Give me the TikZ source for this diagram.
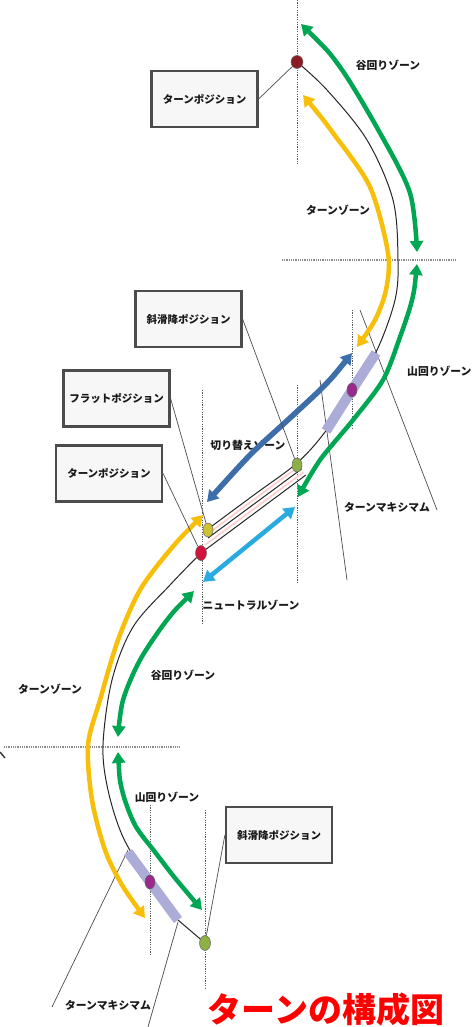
\documentclass[tikz,border=0pt]{standalone}
\usepackage{fontspec}
\setmainfont{Noto Sans CJK JP}
\usetikzlibrary{arrows.meta,shapes.geometric}
\definecolor{zgreen}{RGB}{0,166,81}
\definecolor{zyellow}{RGB}{247,190,10}
\definecolor{zsteel}{RGB}{62,110,170}
\definecolor{zsky}{RGB}{41,171,226}
\definecolor{zlav}{RGB}{172,172,216}
\definecolor{zdred}{RGB}{140,28,36}
\definecolor{zred}{RGB}{210,20,60}
\definecolor{zpurple}{RGB}{155,40,140}
\definecolor{zolive}{RGB}{140,175,70}
\definecolor{zydot}{RGB}{205,195,50}
\definecolor{ztitle}{RGB}{255,0,0}
\tikzset{
  >={Triangle[width=13pt,length=11pt]},
  track/.style={draw=black!85, line width=1pt},
  pinkline/.style={draw=red!20, line width=1.6pt},
  band/.style={draw=zlav, line width=10pt},
  zarrow/.style={line width=4.5pt, line join=round},
  vdash/.style={draw=black!65, line width=0.6pt, dash pattern=on 1.2pt off 1.2pt},
  hdash/.style={draw=black!45, line width=2.6pt, dash pattern=on 1pt off 0.8pt},
  leader/.style={draw=black!70, line width=0.7pt},
  lbl/.style={font=\fontsize{10.8}{12}\selectfont\bfseries, text=black!90, inner sep=0pt},
  boxnode/.style={draw=black!70, line width=2.2pt, fill=black!3, minimum width=106pt,
    minimum height=56pt, inner sep=0pt, font=\fontsize{10.5}{12}\selectfont\bfseries, text=black!90},
  dotnode/.style={ellipse, draw=black!60, line width=0.5pt, inner sep=0pt,
    minimum width=10pt, minimum height=14pt}
}
\begin{document}
\begin{tikzpicture}[x=1pt,y=-1pt]
\useasboundingbox (0,0) rectangle (472,1027);

% dashed guide lines
\draw[vdash] (297,0) -- (297,165);
\draw[vdash] (202,390) -- (202,625);
\draw[vdash] (297,385) -- (297,582);
\draw[vdash] (352,310) -- (352,430);
\draw[vdash] (150,805) -- (150,955);
\draw[vdash] (205,810) -- (205,990);
\draw[hdash] (282,260) -- (455,260);
\draw[hdash] (4,747) -- (180,747);
\draw[line width=1.4pt, black!80] (0,752) -- (5,758);

% turn maximum leaders
\draw[leader] (360,310) -- (437,510);
\draw[leader] (320,380) -- (347,580);
\draw[leader] (52,1007) -- (128,850);
\draw[leader] (148,1027) -- (178,922);

% track
\draw[pinkline] (299.2,466) -- (210,532.1);
\draw[pinkline] (303.7,472) -- (205,545.1);
\draw[track] plot[smooth,tension=0.55] coordinates {(212,526) (254.5,494.5) (297,463) (325,432) (352,390) (377,350) (395,300) (398,260) (393,200) (367,140) (327,90) (297,62)};
\draw[track] (301.5,469) -- (208,538);
\draw[track] (305.9,475) -- (201,553);
\draw[track] plot[smooth,tension=0.55] coordinates {(201,553) (170,585) (133,627) (112,680) (103,745) (108,790) (123,837) (150,882) (178,920)} -- (205,943);

% lavender bands
\draw[band] plot[smooth] coordinates {(376,353) (352,390) (326,431)};
\draw[band] plot[smooth] coordinates {(128,852) (150,882) (178,920)};

% labels
\node[lbl] (l1) at (388,65) {谷回りゾーン};
\node[lbl] (l2) at (338,210) {ターンゾーン};
\node[lbl, anchor=west] (l3) at (407,371) {山回りゾーン};
\node[lbl] (l4) at (248,445) {切り替えゾーン};
\node[lbl] (l5) at (387,507) {ターンマキシマム};
\node[lbl] (l6) at (251,605) {ニュートラルゾーン};
\node[lbl] (l7) at (183,675) {谷回りゾーン};
\node[lbl] (l8) at (50,689) {ターンゾーン};
\node[lbl] (l9) at (167,797) {山回りゾーン};
\node[lbl] (l10) at (108,1005) {ターンマキシマム};
\node[font=\fontsize{34}{36}\selectfont\bfseries, text=ztitle, inner sep=0pt] (title) at (326,1010) {ターンの構成図};

% arrows
\draw[zarrow, zgreen, <->] plot[smooth] coordinates {(301,24) (340,67) (380,133) (410,193) (417,252)};
\draw[zarrow, zyellow, <->] plot[smooth] coordinates {(303,95) (333,133) (370,187) (388,253) (386,290) (375,320) (357,347)};
\draw[zarrow, zgreen, <->] plot[smooth] coordinates {(417,264) (412,300) (400,337) (383,380) (353,420) (320,460) (298,497)};
\draw[zarrow, zsteel, line width=5.5pt, <->] plot[smooth] coordinates {(352,353) (325,385) (290,418) (250,455) (207,502)};
\draw[zarrow, zsky, <->] (203,582) -- (295,507);
\draw[zarrow, zgreen, <->] plot[smooth] coordinates {(194,591) (167,620) (140,660) (123,700) (118,737)};
\draw[zarrow, zgreen, <->] plot[smooth] coordinates {(118,752) (122,790) (135,825) (155,852) (175,878) (202,910)};
\draw[zarrow, zyellow, <->] plot[smooth] coordinates {(203,515) (170,550) (140,590) (118,640) (100,700) (88,745) (92,800) (105,850) (122,885) (145,918)};

% dots
\node[dotnode, fill=zdred, minimum width=12pt, minimum height=13pt] (rd1) at (297,62) {};
\node[dotnode, fill=zpurple] (pd1) at (352,390) {};
\node[dotnode, fill=zolive] (gd1) at (297,465) {};
\node[dotnode, fill=zydot] (yd1) at (208,530) {};
\node[dotnode, fill=zred, minimum width=11pt, minimum height=15pt] (rd2) at (201,553) {};
\node[dotnode, fill=zpurple] (pd2) at (150,882) {};
\node[dotnode, fill=zolive, minimum width=11pt, minimum height=15pt] (gd2) at (205,943) {};

% boxes
\node[boxnode] (tb1) at (204.5,99) {ターンポジション};
\node[boxnode] (sb1) at (188.5,319) {斜滑降ポジション};
\node[boxnode] (fb) at (116.5,398.5) {フラットポジション};
\node[boxnode] (tb2) at (109,473.5) {ターンポジション};
\node[boxnode] (sb2) at (279,835) {斜滑降ポジション};

% leaders from boxes
\draw[leader] (tb1.east) -- (rd1);
\draw[leader] (sb1.east) -- (gd1);
\draw[leader] (fb.east) -- (yd1);
\draw[leader] (tb2.east) -- (rd2);
\draw[leader] (sb2.west) -- (gd2);
\end{tikzpicture}
\end{document}
